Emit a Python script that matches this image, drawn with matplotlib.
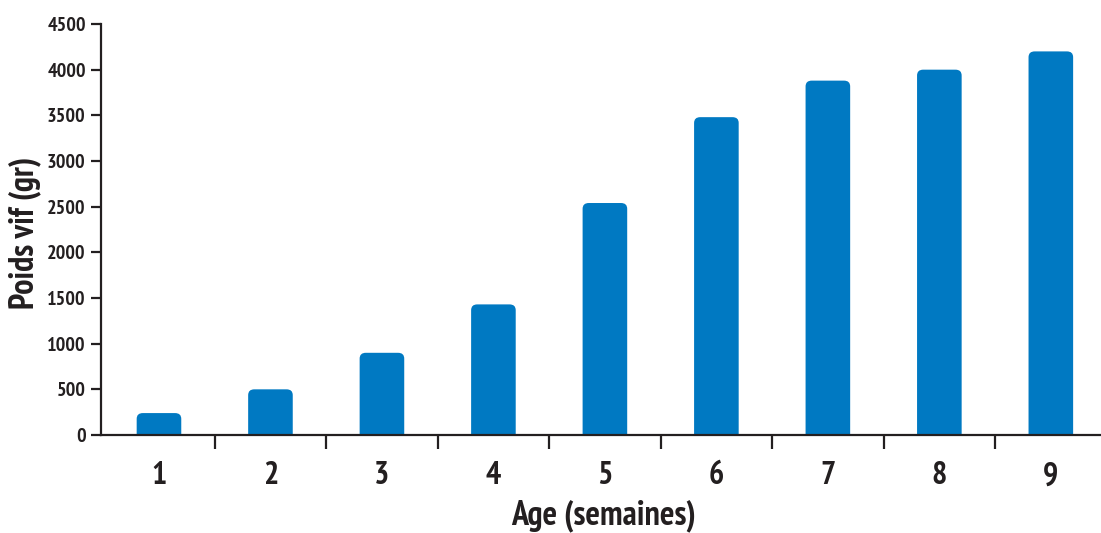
import matplotlib
matplotlib.use('Agg')
import matplotlib.pyplot as plt
from matplotlib.patches import FancyBboxPatch
from matplotlib.ticker import FixedLocator

# weekly live weight
weeks = ['1', '2', '3', '4', '5', '6', '7', '8', '9']
weight = [240, 500, 900, 1430, 2540, 3480, 3880, 4000, 4200]
yticks = [0, 500, 1000, 1500, 2000, 2500, 3000, 3500, 4000, 4500]

plt.rcParams['font.family'] = ['PT Sans Narrow', 'DejaVu Sans']
plt.rcParams['font.weight'] = 'bold'
dark = '#231f20'
blue = '#0079c2'

fig = plt.figure(figsize=(11.01, 5.33), dpi=100)
W, H = 1101, 533
ax = fig.add_axes([101 / W, (H - 435) / H, 1000 / W, (435 - 24) / H])

xpos = list(range(len(weeks)))
ax.set_xlim(-0.52, 8.45)
ax.set_ylim(0, 4500)

# bars with rounded tops (bottom extended below 0 and clipped)
bw = 0.40
for x, v in zip(xpos, weight):
    p = FancyBboxPatch((x - bw / 2, -300), bw, v + 300,
                       boxstyle='round,pad=0,rounding_size=0.055',
                       mutation_aspect=1150, facecolor=blue,
                       edgecolor='none', zorder=2)
    ax.add_patch(p)

for s in ['top', 'right']:
    ax.spines[s].set_visible(False)
for s in ['left', 'bottom']:
    ax.spines[s].set_linewidth(1.6)
    ax.spines[s].set_color(dark)
    ax.spines[s].set_zorder(3)

ax.set_yticks(yticks)
ax.set_yticklabels([str(t) for t in yticks], fontsize=14.5, fontweight='bold', color=dark)
ax.tick_params(axis='y', length=7, width=1.6, color=dark, pad=4)

ax.set_xticks(xpos)
ax.set_xticklabels(weeks, fontsize=23, fontweight='bold', color=dark)
ax.tick_params(axis='x', which='major', length=0, pad=19)
ax.xaxis.set_minor_locator(FixedLocator([x + 0.5 for x in xpos[:-1]]))
ax.tick_params(axis='x', which='minor', length=10, width=1.6, color=dark, direction='out')

fig.text(25 / W, 1 - 233 / H, 'Poids vif (gr)', rotation=90, ha='center', va='center',
         fontsize=24.5, fontweight='bold', color=dark)
fig.text(603 / W, 1 - 516 / H, 'Age (semaines)', ha='center', va='center',
         fontsize=24.5, fontweight='bold', color=dark)

fig.savefig('out.png', dpi=100)
